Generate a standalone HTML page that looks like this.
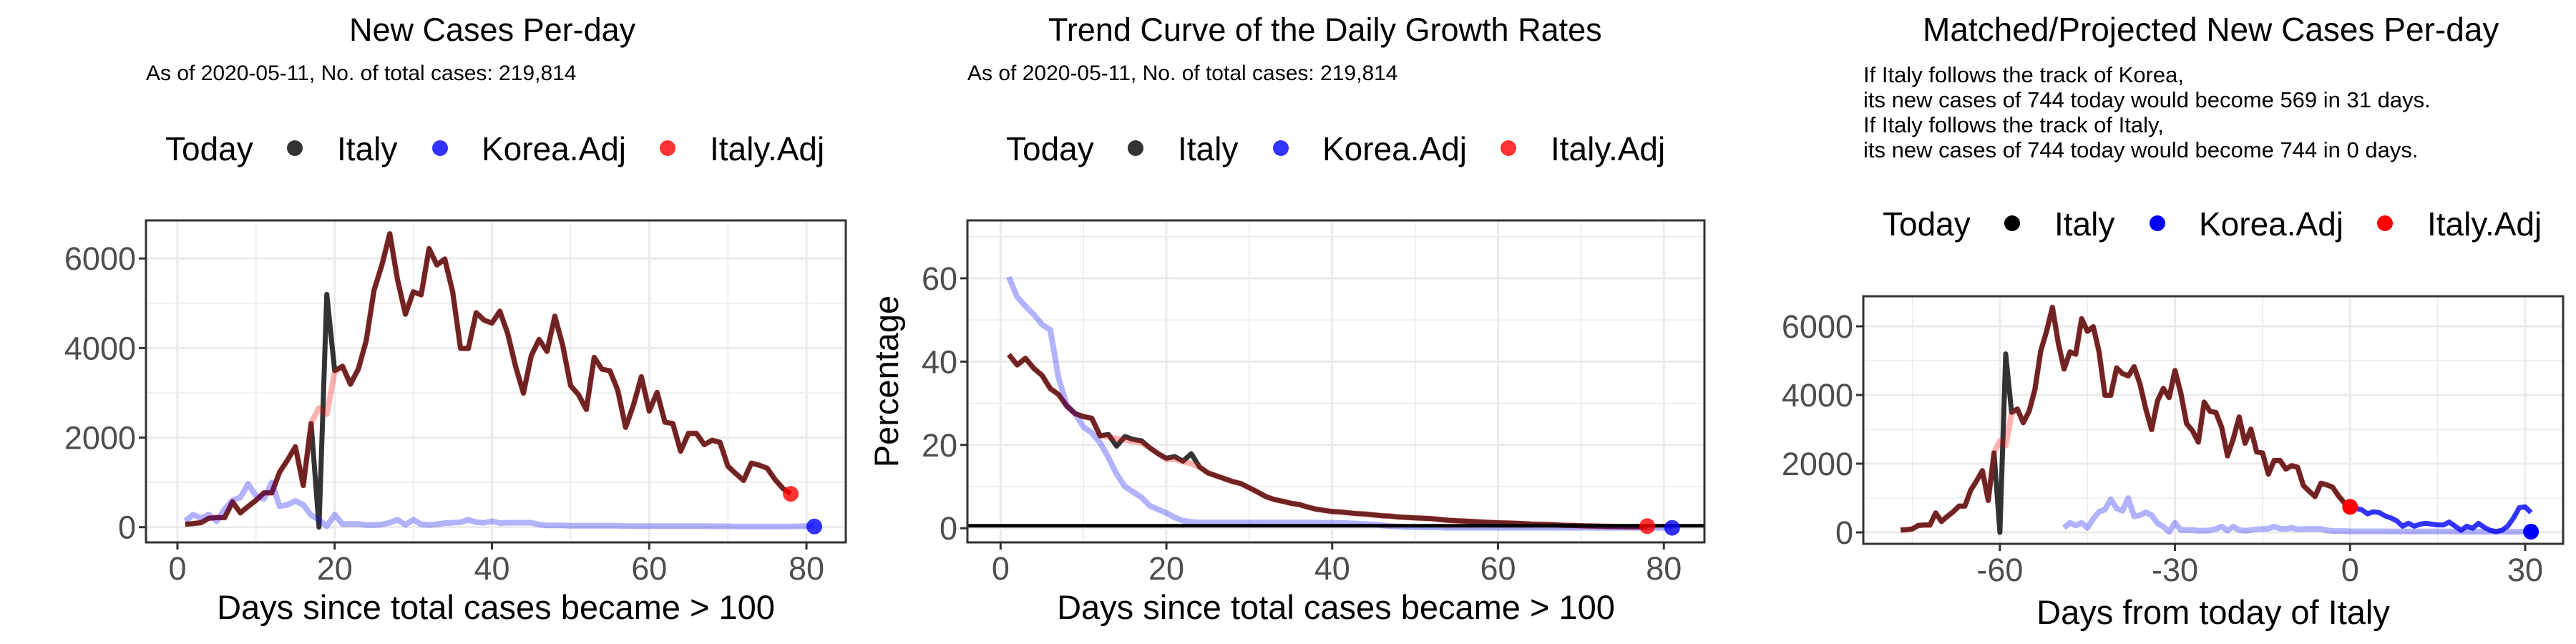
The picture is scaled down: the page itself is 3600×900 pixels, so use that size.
<!DOCTYPE html>
<html><head><meta charset="utf-8"><style>
html,body{margin:0;padding:0;background:#fff;}
svg{display:block;font-family:"Liberation Sans",Arial,sans-serif;}
</style></head><body>
<svg id="chart" width="3600" height="900" viewBox="0 0 3600 900" xmlns="http://www.w3.org/2000/svg">
<rect width="3600" height="900" fill="#fff"/>
<g>
<text x="488" y="57" font-size="45" fill="#000">New Cases Per-day</text>
<text x="204" y="112" font-size="30" fill="#000">As of 2020-05-11, No. of total cases: 219,814</text>
</g>
<g>
<text x="1465" y="57" font-size="45" fill="#000">Trend Curve of the Daily Growth Rates</text>
<text x="1352" y="112" font-size="30" fill="#000">As of 2020-05-11, No. of total cases: 219,814</text>
</g>
<g>
<text x="2687" y="57" font-size="46" fill="#000">Matched/Projected New Cases Per-day</text>
<text x="2604" y="115" font-size="31" fill="#000">If Italy follows the track of Korea,</text>
<text x="2604" y="150" font-size="31" fill="#000">its new cases of 744 today would become 569 in 31 days.</text>
<text x="2604" y="185" font-size="31" fill="#000">If Italy follows the track of Italy,</text>
<text x="2604" y="220" font-size="31" fill="#000">its new cases of 744 today would become 744 in 0 days.</text>
</g>
</svg>
<script>
// ---- data ----
const italyNew = [66,80,100,200,213,213,565,320,466,600,765,765,1230,1497,1796,931,2313,0,5198,3497,3592,3193,3526,4157,5288,5854,6552,5521,4756,5255,5188,6220,5854,5987,5255,3991,3991,4789,4623,4557,4823,4324,3592,2993,3825,4191,3925,4710,4058,3160,2960,2628,3792,3526,3492,3060,2228,2727,3359,2594,3007,2342,2315,1696,2095,2095,1843,1942,1896,1364,1197,1044,1430,1384,1317,1064,865,744];
const italyAdjNew = [66,80,100,200,213,213,565,320,466,600,765,765,1230,1497,1796,931,2328,2660,2528,3459,3592,3193,3526,4157,5288,5854,6552,5521,4756,5255,5188,6220,5854,5987,5255,3991,3991,4789,4623,4557,4823,4324,3592,2993,3825,4191,3925,4710,4058,3160,2960,2628,3792,3526,3492,3060,2228,2727,3359,2594,3007,2342,2315,1696,2095,2095,1843,1942,1896,1364,1197,1044,1430,1384,1317,1064,865,744];
const koreaNew = [133,280,200,280,133,400,600,665,965,700,630,998,466,500,585,500,266,166,20,280,66,70,70,50,50,60,100,166,53,166,66,50,66,90,100,110,166,110,100,133,90,100,100,100,100,60,40,40,40,30,30,30,30,30,30,30,25,25,25,25,25,25,25,25,25,25,25,20,20,20,15,15,15,15,15,15,15,15,20,25,30];
const koreaProj = [720,696,660,540,600,576,480,420,336,180,264,180,240,264,240,216,216,300,180,60,180,120,264,144,60,24,60,180,420,720,744,576];
const italyRate = [41.7,39.2,40.8,38.4,36.7,33.5,32.1,29.3,27.5,26.8,26.4,22.2,22.5,19.7,22.0,21.3,21.0,19.3,17.9,16.8,17.2,16.1,17.9,14.7,13.3,12.6,11.9,11.2,10.7,9.7,8.7,7.6,6.9,6.5,6.0,5.7,5.1,4.6,4.3,4.0,3.9,3.7,3.5,3.4,3.2,3.0,2.9,2.7,2.6,2.5,2.4,2.3,2.1,1.9,1.8,1.7,1.6,1.5,1.4,1.3,1.25,1.2,1.1,1.0,0.95,0.9,0.8,0.7,0.65,0.6,0.55,0.5,0.45,0.4,0.38,0.35,0.32,0.3];
const italyAdjRate = [41.7,39.2,40.8,38.4,36.7,33.5,32.1,29.3,27.5,26.8,26.4,22.2,22.0,21.5,21.2,20.8,20.5,19.3,17.9,16.5,16.6,16.0,15.5,14.7,13.3,12.6,11.9,11.2,10.7,9.7,8.7,7.6,6.9,6.5,6.0,5.7,5.1,4.6,4.3,4.0,3.9,3.7,3.5,3.4,3.2,3.0,2.9,2.7,2.6,2.5,2.4,2.3,2.1,1.9,1.8,1.7,1.6,1.5,1.4,1.3,1.25,1.2,1.1,1.0,0.95,0.9,0.8,0.7,0.65,0.6,0.55,0.5,0.45,0.4,0.38,0.35,0.32,0.3];
const koreaRate = [60.3,55.5,53.3,51.3,48.9,47.6,36,29.5,27.5,24.3,22.9,20.5,17,13,10,8.7,7.4,5.4,4.5,3.7,2.6,1.8,1.5,1.4,1.4,1.4,1.4,1.4,1.4,1.4,1.4,1.4,1.4,1.4,1.4,1.4,1.4,1.4,1.3,1.3,1.3,1.2,1.1,1.0,0.9,0.7,0.5,0.4,0.3,0.3,0.2,0.2,0.2,0.1,0.1,0.1,0.1,0.1,0.1,0.1,0.1,0.1,0.1,0.1,0.1,0.1,0.1,0.1,0.1,0.1,0.1,0.1,0.1,0.1,0.1,0.1,0.1,0.1,0.1,0.1,0.1];
const todayItaly = 744, todayItalyRate = 0.5, todayKorea = 15, todayKoreaRate = 0.1, projEnd = 20;
const xTicks12 = [0,20,40,60,80], xMinor12 = [10,30,50,70];
const yTicks1 = [0,2000,4000,6000], yMinor1 = [1000,3000,5000];
const yTicks2 = [0,20,40,60], yMinor2 = [10,30,50,70];
const xTicks3 = [-60,-30,0,30], xMinor3 = [-75,-45,-15,15];
const legendLabels = ["Italy","Korea.Adj","Italy.Adj"];

const NS = "http://www.w3.org/2000/svg";
const svg = document.getElementById('chart');
function el(tag, attrs, parent){ const e=document.createElementNS(NS,tag); for(const k in attrs) e.setAttribute(k,attrs[k]); (parent||svg).appendChild(e); return e; }

function panel(cfg){
  const g = el('g',{});
  
  
  const {L,R,T,B,x0,x1,y0,y1} = cfg;
  const sx = v => L + (v-x0)/(x1-x0)*(R-L);
  const sy = v => B - (v-y0)/(y1-y0)*(B-T);
  cfg.sx=sx; cfg.sy=sy;
  cfg.xMinor.forEach(v=>{ const l=el('line',{x1:sx(v),x2:sx(v),y1:T,y2:B,stroke:'#ebebeb','stroke-width':1.5},g);   });
  cfg.yMinor.forEach(v=>{ const l=el('line',{x1:L,x2:R,y1:sy(v),y2:sy(v),stroke:'#ebebeb','stroke-width':1.5},g);   });
  cfg.xTicks.forEach(v=>{
    const l=el('line',{x1:sx(v),x2:sx(v),y1:T,y2:B,stroke:'#ebebeb','stroke-width':3},g);  
    const t=el('line',{x1:sx(v),x2:sx(v),y1:B,y2:B+10,stroke:'#333','stroke-width':3},g);  
    const tx=el('text',{x:sx(v),y:B+52,'font-size':45,fill:'#4d4d4d','text-anchor':'middle'},g); tx.textContent=v;
     
  });
  cfg.yTicks.forEach(v=>{
    const l=el('line',{x1:L,x2:R,y1:sy(v),y2:sy(v),stroke:'#ebebeb','stroke-width':3},g);  
    const t=el('line',{x1:L-10,x2:L,y1:sy(v),y2:sy(v),stroke:'#333','stroke-width':3},g);  
    const tx=el('text',{x:L-14,y:sy(v)+16,'font-size':45,fill:'#4d4d4d','text-anchor':'end'},g); tx.textContent=v;
     
  });
  const xt=el('text',{x:(L+R)/2,y:cfg.xtY,'font-size':47,fill:'#000','text-anchor':'middle'},g); xt.textContent=cfg.xTitle;
   
  if(cfg.yTitle){ const yt=el('text',{x:0,y:0,'font-size':47,fill:'#000','text-anchor':'middle',transform:`translate(${cfg.ytX},${(T+B)/2}) rotate(-90)`},g); yt.textContent=cfg.yTitle;
      }
  cfg.g=g;
  // legend
  const lg=el('g',{},svg);
  
  
  const lt=el('text',{x:cfg.leg[0],y:cfg.legY+17,'font-size':cfg.legFont,fill:'#000'},lg); lt.textContent='Today';
   
  const cols=cfg.legCols;
  for(let i=0;i<3;i++){
    const c=el('circle',{cx:cfg.leg[1+i*2],cy:cfg.legY,r:11,fill:cols[i]},lg);
     
    const t=el('text',{x:cfg.leg[2+i*2],y:cfg.legY+17,'font-size':cfg.legFont,fill:'#000'},lg); t.textContent=legendLabels[i];
     
  }
  return cfg;
}
function line(cfg, xs, ys, color, w, name){
  const pts = ys.map((v,i)=>cfg.sx(xs[i]).toFixed(1)+','+cfg.sy(v).toFixed(1)).join(' ');
  const p=el('polyline',{points:pts,fill:'none',stroke:color,'stroke-width':w,'stroke-linejoin':'round'},cfg.g);
  
  
}
function dot(cfg,x,y,color,name){
  const c=el('circle',{cx:cfg.sx(x),cy:cfg.sy(y),r:11,fill:color},cfg.g);
  
  
}
function frame(cfg){
  const r=el('rect',{x:cfg.L,y:cfg.T,width:cfg.R-cfg.L,height:cfg.B-cfg.T,fill:'none',stroke:'#333','stroke-width':3},cfg.g);
   
}
const days = n => Array.from({length:n},(_,i)=>i+1);
const BLK='rgba(0,0,0,0.8)', RED='rgba(255,0,0,0.3)', BLU='rgba(0,0,255,0.3)';
const legA=['rgba(0,0,0,0.8)','rgba(0,0,255,0.8)','rgba(255,0,0,0.8)'];

// Panel 1
const p1=panel({name:'new-cases-plot',L:204,R:1182,T:308,B:758,x0:-4,x1:85,y0:-340,y1:6850,
  xTicks:xTicks12,xMinor:xMinor12,yTicks:yTicks1,yMinor:yMinor1,xTitle:'Days since total cases became > 100',xtY:865,
  leg:[231,412,471,615,673,933,992],legY:207,legFont:46,legCols:legA});
line(p1,days(78),italyNew,BLK,7,'italy-line');
line(p1,days(81),koreaNew,BLU,8,'korea-adj-line');
line(p1,days(78),italyAdjNew,RED,8,'italy-adj-line');
dot(p1,78,todayItaly,'rgba(255,0,0,0.8)','italy-today-dot');
dot(p1,81,todayKorea,'rgba(0,0,255,0.8)','korea-today-dot');
frame(p1);

// Panel 2
const p2=panel({name:'growth-rate-plot',L:1352,R:2382,T:308,B:758,x0:-4,x1:84.9,y0:-3.4,y1:73.9,
  xTicks:xTicks12,xMinor:xMinor12,yTicks:yTicks2,yMinor:yMinor2,xTitle:'Days since total cases became > 100',xtY:865,
  yTitle:'Percentage',ytX:1255,leg:[1406,1587,1646,1790,1848,2108,2167],legY:207,legFont:46,legCols:legA});
line(p2,days(78),italyRate,BLK,7,'italy-rate-line');
line(p2,days(81),koreaRate,BLU,8,'korea-adj-rate-line');
line(p2,days(78),italyAdjRate,RED,8,'italy-adj-rate-line');
{ const h=el('line',{x1:1352,x2:2382,y1:p2.sy(0.6),y2:p2.sy(0.6),stroke:'#000','stroke-width':5},p2.g);
    }
dot(p2,78,todayItalyRate,'rgba(255,0,0,0.8)','italy-today-dot');
dot(p2,81,todayKoreaRate,'rgba(0,0,255,0.8)','korea-today-dot');
frame(p2);

// Panel 3
const p3=panel({name:'projected-plot',L:2604,R:3582,T:414,B:760,x0:-83.4,x1:36.5,y0:-333,y1:6875,
  xTicks:xTicks3,xMinor:xMinor3,yTicks:yTicks1,yMinor:yMinor1,xTitle:'Days from today of Italy',xtY:872,
  leg:[2631,2812,2871,3015,3073,3333,3392],legY:312,legFont:46,legCols:['#000','#00f','#f00']});
line(p3,days(78).map(d=>d-78),italyNew,BLK,7,'italy-line');
line(p3,days(81).map(d=>d-50),koreaNew,BLU,8,'korea-adj-line');
line(p3,days(78).map(d=>d-78),italyAdjNew,RED,8,'italy-adj-line');
line(p3,koreaProj.map((_,i)=>i),koreaProj,'rgba(0,0,255,0.8)',7,'korea-projection-line');
dot(p3,0,todayItaly,'#f00','italy-today-dot');
dot(p3,31,projEnd,'#00f','korea-projection-dot');
frame(p3);
</script>
</body></html>
